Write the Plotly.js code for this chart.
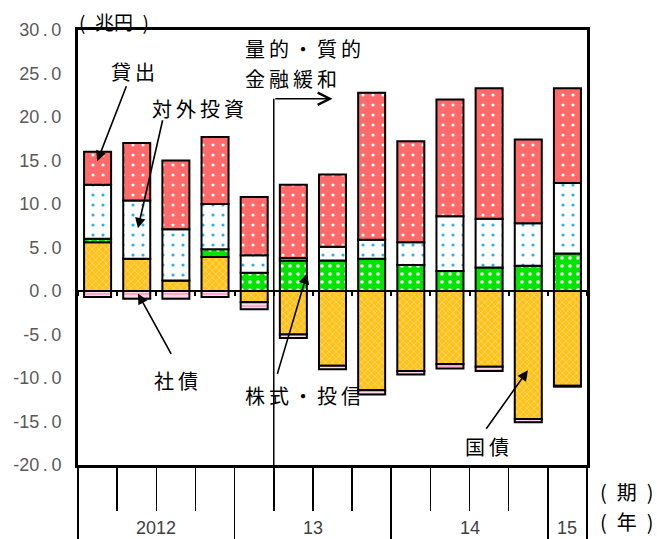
<!DOCTYPE html>
<html><head><meta charset="utf-8">
<script src="https://cdn.plot.ly/plotly-3.0.1.min.js"></script>
<style>html,body{margin:0;padding:0;background:#fff;} #chart{width:657px;height:539px;}</style>
</head><body><div id="chart"></div>
<script>
// ---- data ----
const quarters = ['2012Q1','2012Q2','2012Q3','2012Q4','2013Q1','2013Q2','2013Q3','2013Q4','2014Q1','2014Q2','2014Q3','2014Q4','2015Q1'];
const yearLabels = ['2012','13','14','15'];
const yearQuarterCounts = [4,4,4,1];
const jgb      = [5.6, 3.7, 1.2, 3.9, -1.3, -5.0, -8.6, -11.4, -9.2, -8.4, -8.7, -14.7, -10.9]; // 国債
const corpBond = [-0.7, -0.9, -0.9, -0.7, -0.8, -0.4, -0.4, -0.5, -0.4, -0.5, -0.5, -0.4, -0.1]; // 社債
const equity   = [0.4, 0.0, 0.0, 0.9, 2.1, 3.5, 3.5, 3.7, 3.0, 2.3, 2.7, 2.9, 4.3]; // 株式・投信
const foreign  = [6.2, 6.7, 5.9, 5.2, 2.0, 0.3, 1.6, 2.2, 2.6, 6.3, 5.6, 4.9, 8.1]; // 対外投資
const loans    = [3.8, 6.6, 7.9, 7.7, 6.7, 8.4, 8.3, 16.9, 11.6, 13.4, 15.0, 9.6, 10.9]; // 貸出
const yTickVals = [-20,-15,-10,-5,0,5,10,15,20,25,30];

// ---- helpers ----
const sp = s => s.split('').join('\u2009');
const yTickText = yTickVals.map(v => v.toFixed(1).replace('.', '\u2009.\u2009'));
const quarterBounds = quarters.map((q,i) => i - 0.5).concat([quarters.length - 0.5]);
const yearBounds = [-0.5];
const yearCenters = [];
{ let s = 0; yearQuarterCounts.forEach(n => { yearCenters.push(s + (n - 1) / 2); s += n; yearBounds.push(s - 0.5); }); }

function barTrace(name, y, bg, shape, fg, size, solidity) {
  return {type:'bar', name, x: quarters, y,
    marker:{color:bg, line:{color:'#000', width:2},
      pattern:{shape, bgcolor:bg, fgcolor:fg, size, solidity, fillmode:'replace'}},
    hoverinfo:'skip'};
}

const traces = [
  barTrace('国債', jgb, '#ffc21a', 'x', '#fff3c8', 5, 0.16),
  barTrace('社債', corpBond, '#ffa8cc', '-', '#ffffff', 4, 0.3),
  barTrace('株式・投信', equity, '#00e400', '.', '#ffffff', 8, 0.16),
  barTrace('対外投資', foreign, '#ffffff', '.', '#2fb0ea', 10, 0.08),
  barTrace('貸出', loans, '#ff6a6a', '.', '#ffffff', 10, 0.08),
  {type:'scatter', x:[-0.5, 12.5], y:[null,null], xaxis:'x2', mode:'markers', hoverinfo:'skip', showlegend:false},
  {type:'scatter', x:[-0.5, 12.5], y:[null,null], xaxis:'x3', mode:'markers', hoverinfo:'skip', showlegend:false}
];

const jp = {family:'"Noto Sans CJK JP", sans-serif', size:20, color:'#000'};
function label(text, x, y, xanchor) {
  return {text: sp(text), x, y, xref:'x', yref:'y', showarrow:false, font:jp, xanchor: xanchor || 'center', yanchor:'middle'};
}
function arrow(x, y, ax, ay, head) {
  return {text:'', x, y, ax, ay, xref:'x', yref:'y', axref:'x', ayref:'y', showarrow:true,
    arrowhead: head || 2, arrowsize: head === 5 ? 1.5 : 1.3, arrowwidth: 1.6, arrowcolor:'#000'};
}

const annotations = [
  label('貸出', 0.9, 25.2),
  arrow(-0.01, 14.9, 0.75, 23.7),
  label('対外投資', 2.57, 21.0),
  arrow(1.03, 7.2, 1.67, 19.8),
  label('量的・質的', 3.71, 27.9, 'left'),
  label('金融緩和', 3.71, 24.4, 'left'),
  arrow(6.0, 22.1, 4.5, 22.1, 5),
  label('社債', 2.0, -10.3),
  arrow(1.03, -0.3, 1.9, -7.4),
  label('株式・投信', 5.25, -12.0),
  arrow(5.35, 2.0, 4.58, -9.7),
  label('国債', 9.95, -17.9),
  arrow(10.99, -9.1, 9.9, -16.0),
  {text:'(\u2002兆円\u2002)', x:0.07, y:1.02, xref:'paper', yref:'paper', showarrow:false, font:{...jp, size:19}, xanchor:'center', yanchor:'middle'},
  {text:'(\u2002期\u2002)', x:1.078, y:-0.062, xref:'paper', yref:'paper', showarrow:false, font:jp, xanchor:'center', yanchor:'middle'},
  {text:'(\u2002年\u2002)', x:1.078, y:-0.129, xref:'paper', yref:'paper', showarrow:false, font:jp, xanchor:'center', yanchor:'middle'}
].concat(yearLabels.map((t,i) => ({text:t, x:yearCenters[i], y:-0.145, xref:'x3', yref:'paper', showarrow:false,
  font:{family:'"Liberation Sans", Arial, sans-serif', size:18, color:'#404040'}, xanchor:'center', yanchor:'middle'})));

const layout = {
  width:657, height:539,
  margin:{l:78, r:70, t:30, b:74},
  barmode:'relative', bargap:0.31,
  showlegend:false,
  paper_bgcolor:'#fff', plot_bgcolor:'#fff',
  xaxis:{type:'category', range:[-0.5, 12.5], tickmode:'array', tickvals:quarters, tickson:'boundaries',
    ticks:'outside', ticklen:43, tickwidth:1.5, tickcolor:'#000', showticklabels:false,
    showline:true, linewidth:3, linecolor:'#000', mirror:true, showgrid:false, zeroline:false},
  xaxis2:{overlaying:'x', anchor:'free', position:0.4, type:'linear', range:[-0.5, 12.5],
    tickmode:'array', tickvals:quarterBounds, ticks:'outside', ticklen:4, tickwidth:2, tickcolor:'#000',
    showticklabels:false, showline:true, linewidth:2, linecolor:'#000', showgrid:false, zeroline:false},
  xaxis3:{overlaying:'x', anchor:'y', type:'linear', range:[-0.5, 12.5],
    tickmode:'array', tickvals:yearBounds, ticks:'outside', ticklen:80, tickwidth:1.5, tickcolor:'#000',
    showticklabels:false, showline:false, showgrid:false, zeroline:false},
  yaxis:{range:[-20, 30], tickmode:'array', tickvals:yTickVals, ticktext:yTickText,
    ticks:'outside', ticklen:10, tickcolor:'rgba(0,0,0,0)',
    showline:true, linewidth:3, linecolor:'#000', mirror:true, showgrid:false, zeroline:false,
    tickfont:{family:'"Liberation Sans", Arial, sans-serif', size:18, color:'#595959'}},
  shapes:[{type:'line', xref:'x', yref:'y', x0:4.5, x1:4.5, y0:-20, y1:22.1, line:{color:'#000', width:1.5}}],
  annotations
};

Plotly.newPlot('chart', traces, layout, {displayModeBar:false, staticPlot:true});
</script></body></html>
